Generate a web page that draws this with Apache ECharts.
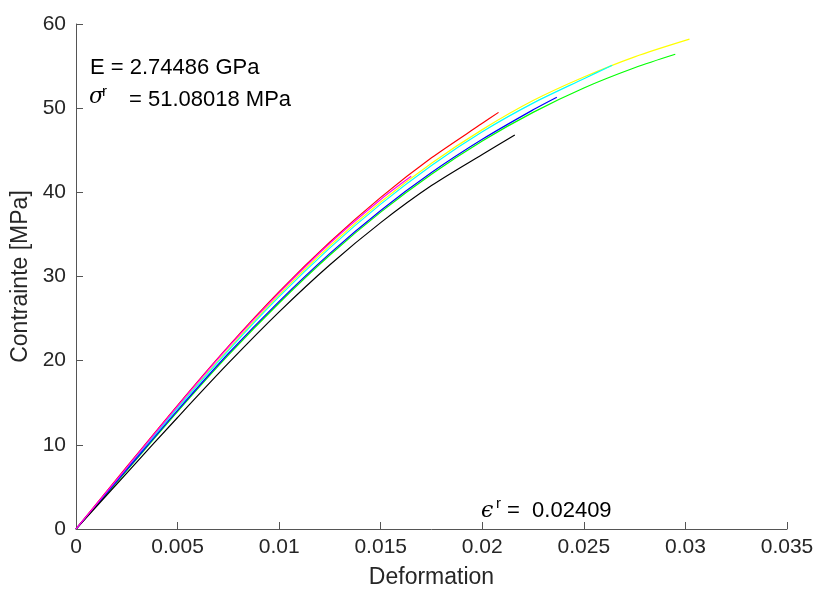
<!DOCTYPE html>
<html><head><meta charset="utf-8">
<script src="https://cdn.jsdelivr.net/npm/echarts@6/dist/echarts.min.js"></script>
<style>html,body{margin:0;padding:0;background:#fff}#c{width:815px;height:589px}</style>
</head><body><div id="c"></div>
<script>
// Strain / stress data per specimen
const redX = [0, 0.0025, 0.005, 0.0075, 0.01, 0.0125, 0.015, 0.0175, 0.02, 0.0208];
const redY = [0, 7.4, 14.7, 21.7, 28.2, 34.1, 39.4, 44.1, 48.2, 49.5];
const blackX = [0, 0.0025, 0.005, 0.0075, 0.01, 0.0125, 0.015, 0.0175, 0.02, 0.0216];
const blackY = [0, 6.65, 13.25, 19.7, 25.8, 31.4, 36.4, 40.8, 44.5, 46.8];
const blueX = [0, 0.0025, 0.005, 0.0075, 0.01, 0.0125, 0.015, 0.0175, 0.02, 0.0225, 0.02367];
const blueY = [0, 7.05, 14.1, 20.85, 27.05, 32.75, 37.85, 42.35, 46.3, 49.8, 51.3];
const cyanX = [0, 0.0025, 0.005, 0.0075, 0.01, 0.0125, 0.015, 0.0175, 0.02, 0.0225, 0.025, 0.0264];
const cyanY = [0, 7.15, 14.35, 21.2, 27.6, 33.4, 38.6, 43.2, 47.2, 50.6, 53.5, 55.1];
const yellowX = [0, 0.0025, 0.005, 0.0075, 0.01, 0.0125, 0.015, 0.0175, 0.02, 0.0225, 0.025, 0.0275, 0.0302];
const yellowY = [0, 7.25, 14.45, 21.35, 27.8, 33.65, 38.85, 43.45, 47.45, 50.9, 53.7, 56.1, 58.2];
const greenX = [0, 0.0025, 0.005, 0.0075, 0.01, 0.0125, 0.015, 0.0175, 0.02, 0.0225, 0.025, 0.0275, 0.0295];
const greenY = [0, 6.95, 13.95, 20.65, 26.85, 32.55, 37.65, 42.15, 46.1, 49.5, 52.4, 54.8, 56.4];
const magentaX = [0, 0.0025, 0.005, 0.0075, 0.01, 0.0125, 0.015, 0.0165];
const magentaY = [0, 7.3, 14.6, 21.6, 28.05, 33.95, 39.15, 41.9];

const xTicks = [0, 0.005, 0.01, 0.015, 0.02, 0.025, 0.03, 0.035];
const yTicks = [0, 10, 20, 30, 40, 50, 60];

const seriesDefs = [
  ['yellow', yellowX, yellowY, '#ffff00'],
  ['green', greenX, greenY, '#00ff00'],
  ['cyan', cyanX, cyanY, '#00ffff'],
  ['blue', blueX, blueY, '#0000ff'],
  ['red', redX, redY, '#ff0000'],
  ['black', blackX, blackY, '#000000'],
  ['magenta', magentaX, magentaY, '#ff00ff']
];

const FONT = '"Liberation Sans", Arial, sans-serif';
const axisCol = '#555555';
const chart = echarts.init(document.getElementById('c'), null, {renderer: 'canvas'});
chart.setOption({
  animation: false,
  backgroundColor: '#ffffff',
  grid: {left: 76, right: 28, top: 24, bottom: 60, containLabel: false, outerBoundsMode: 'none'},
  xAxis: {
    type: 'value', min: xTicks[0], max: xTicks[xTicks.length - 1], interval: 0.005,
    name: 'Deformation', nameLocation: 'middle', nameGap: 37,
    nameTextStyle: {color: '#262626', fontSize: 23, fontFamily: FONT},
    axisLine: {lineStyle: {color: axisCol, width: 1}},
    axisTick: {inside: true, length: 7, lineStyle: {color: axisCol}},
    axisLabel: {color: '#262626', fontSize: 21, fontFamily: FONT, margin: 8},
    splitLine: {show: false}
  },
  yAxis: {
    type: 'value', min: yTicks[0], max: yTicks[yTicks.length - 1], interval: 10,
    name: 'Contrainte [MPa]', nameLocation: 'middle', nameGap: 42,
    nameTextStyle: {color: '#262626', fontSize: 23, fontFamily: FONT},
    axisLine: {show: true, lineStyle: {color: axisCol, width: 1}},
    axisTick: {show: true, inside: true, length: 7, lineStyle: {color: axisCol}},
    axisLabel: {color: '#262626', fontSize: 21, fontFamily: FONT, margin: 10},
    splitLine: {show: false}
  },
  series: seriesDefs.map(([name, xs, ys, col]) => ({
    name, type: 'line', showSymbol: false, symbol: 'none',
    smooth: 0.3,
    data: xs.map((x, i) => [x, ys[i]]),
    lineStyle: {color: col, width: 1.2}, itemStyle: {color: col}
  })),
  graphic: [
    {type: 'text', left: 90, top: 57, style: {text: 'E = 2.74486 GPa', font: '22px ' + FONT, fill: '#000'}},
    {type: 'text', left: 89, top: 86, style: {text: 'σ', font: 'italic 22px "DejaVu Serif", serif', fill: '#000'}},
    {type: 'text', left: 102, top: 84, style: {text: 'r', font: '15px ' + FONT, fill: '#000'}},
    {type: 'text', left: 129, top: 89, style: {text: '= 51.08018 MPa', font: '22px ' + FONT, fill: '#000'}},
    {type: 'text', left: 481, top: 500, style: {text: 'ϵ', font: 'italic 22px "DejaVu Serif", serif', fill: '#000'}},
    {type: 'text', left: 496, top: 496, style: {text: 'r', font: '15px ' + FONT, fill: '#000'}},
    {type: 'text', left: 507, top: 500, style: {text: '=  0.02409', font: '22px ' + FONT, fill: '#000'}}
  ]
});
</script></body></html>
